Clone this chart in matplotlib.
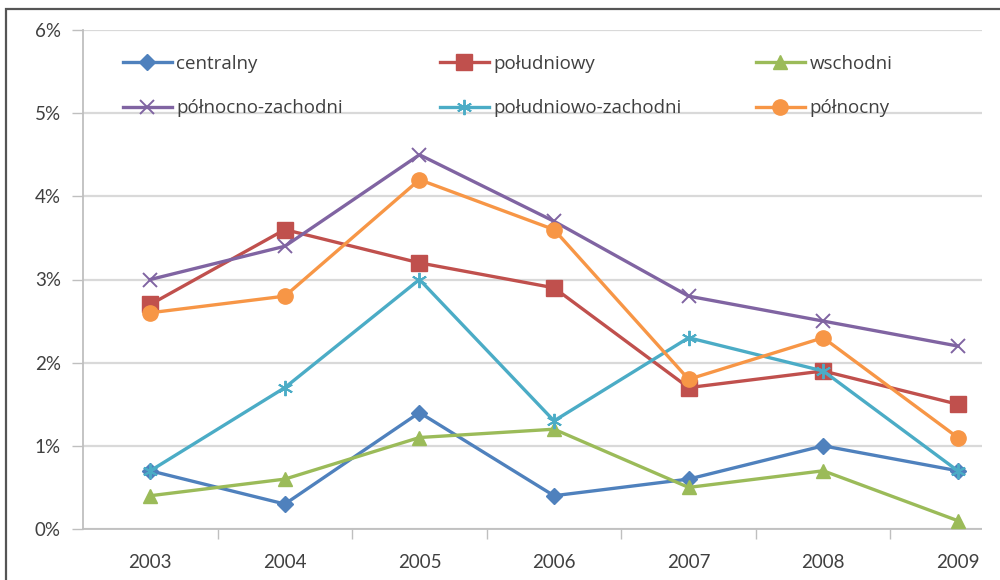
import matplotlib
matplotlib.use("Agg")
import matplotlib.pyplot as plt
from matplotlib.patches import Rectangle

years = ["2003", "2004", "2005", "2006", "2007", "2008", "2009"]
y_ticks = [0, 1, 2, 3, 4, 5, 6]
y_tick_labels = ["0%", "1%", "2%", "3%", "4%", "5%", "6%"]

centralny = [0.7, 0.3, 1.4, 0.4, 0.6, 1.0, 0.7]
poludniowy = [2.7, 3.6, 3.2, 2.9, 1.7, 1.9, 1.5]
wschodni = [0.4, 0.6, 1.1, 1.2, 0.5, 0.7, 0.1]
polnocno_zachodni = [3.0, 3.4, 4.5, 3.7, 2.8, 2.5, 2.2]
poludniowo_zachodni = [0.7, 1.7, 3.0, 1.3, 2.3, 1.9, 0.7]
polnocny = [2.6, 2.8, 4.2, 3.6, 1.8, 2.3, 1.1]

series = [
    ("centralny", centralny, "#4F81BD", "D", 8),
    ("południowy", poludniowy, "#C0504D", "s", 11),
    ("wschodni", wschodni, "#9BBB59", "^", 10),
    ("północno-zachodni", polnocno_zachodni, "#8064A2", "x", 10),
    ("południowo-zachodni", poludniowo_zachodni, "#4BACC6", (6, 2, 0), 11),
    ("północny", polnocny, "#F79646", "o", 11),
]

plt.rcParams["font.family"] = ["Lato", "DejaVu Sans"]
text_color = "#404040"

fig = plt.figure(figsize=(10, 5.8), dpi=100)
W, H = 1000, 580
left, right, bottom, top = 83, 982, 529, 30
ax = fig.add_axes([left / W, 1 - bottom / H, (right - left) / W, (bottom - top) / H])

x = list(range(len(years)))
handles = []
for name, vals, color, marker, ms in series:
    mew = 1.4 if marker == "x" or isinstance(marker, tuple) else 1
    (ln,) = ax.plot(x, vals, color=color, lw=2.4, marker=marker, markersize=ms,
                    markeredgewidth=mew, markeredgecolor=color, markerfacecolor=color,
                    clip_on=False, zorder=3, label=name)
    handles.append(ln)

ax.set_ylim(0, 6)
ax.set_xlim(-0.5, 6.18)
ax.set_yticks(y_ticks)
ax.set_yticklabels(y_tick_labels)
ax.set_xticks(x)
ax.set_xticklabels(years)
ax.set_xticks([i + 0.5 for i in range(6)], minor=True)
ax.tick_params(axis="x", which="major", length=0, pad=18, labelsize=13.5, labelcolor=text_color)
ax.tick_params(axis="x", which="minor", length=7, width=1, color="#BFBFBF", direction="out")
ax.tick_params(axis="y", length=8, width=1, color="#BFBFBF", pad=8, labelsize=13.5, labelcolor=text_color)
ax.grid(axis="y", color="#D9D9D9", lw=1.6, zorder=0)
ax.set_axisbelow(True)
for s in ("top", "right"):
    ax.spines[s].set_visible(False)
for s in ("left", "bottom"):
    ax.spines[s].set_color("#BFBFBF")
    ax.spines[s].set_linewidth(1.3)

# legend: three columns of two rows
col_x = [123, 440, 756]
row_y = 55
for c in range(3):
    hs = [handles[c], handles[c + 3]]
    fig.legend(handles=hs, loc="upper left",
               bbox_to_anchor=(col_x[c] / W, 1 - row_y / H),
               frameon=False, fontsize=13.5, handlelength=2.6, handletextpad=0.25,
               labelspacing=1.4, borderaxespad=0, borderpad=0, labelcolor=text_color,
               prop={"family": ["Open Sans", "DejaVu Sans"], "size": 13.5})

# white mask on right edge and outer frame
fig.add_artist(Rectangle((982 / W, 0), 1 - 982 / W, 1 - 12 / H, transform=fig.transFigure,
                         facecolor="white", edgecolor="none", zorder=10))
fig.add_artist(Rectangle((6 / W, -0.1), 1.2, 1.1 - 9 / H, transform=fig.transFigure,
                         facecolor="none", edgecolor="#555555", lw=1.6, zorder=11))

fig.savefig("out.png", dpi=100)
